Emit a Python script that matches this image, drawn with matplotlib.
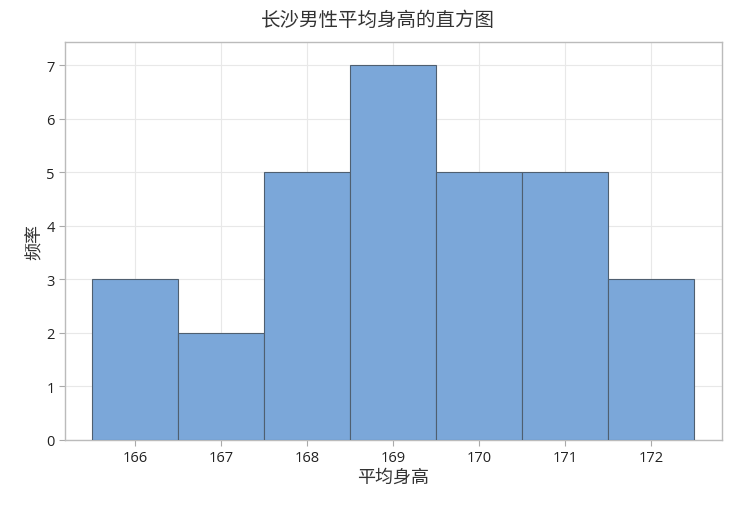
import matplotlib
matplotlib.use("Agg")
import matplotlib.pyplot as plt

plt.rcParams['font.family'] = ['Noto Sans CJK SC', 'DejaVu Sans']

heights = [166, 167, 168, 169, 170, 171, 172]
counts = [3, 2, 5, 7, 5, 5, 3]
yticks = [0, 1, 2, 3, 4, 5, 6, 7]

fig = plt.figure(figsize=(7.55, 5.10), dpi=100)
ax = fig.add_axes([65/755, 1 - 441/510, (722-65)/755, (441-43)/510])

ax.bar(heights, counts, width=1.0, color='#7BA7D9', edgecolor='#4F5F70', linewidth=0.8, zorder=3)

ax.set_xlim(165.186, 172.826)
ax.set_ylim(0, 7.43)
ax.set_xticks(heights)
ax.set_yticks(yticks)
ax.grid(True, color='#E8E8E8', linewidth=0.8, zorder=0)
for s in ax.spines.values():
    s.set_color('#BBBBBB')
    s.set_linewidth(1.0)
ax.tick_params(axis='both', colors='#AAAAAA', labelcolor='#222222', labelsize=10.5, length=4)
for lab in ax.get_xticklabels() + ax.get_yticklabels():
    lab.set_family(['Open Sans', 'DejaVu Sans'])

ax.set_xlabel('平均身高', fontsize=13, color='#333333', labelpad=2)
ax.set_ylabel('频率', fontsize=13, color='#333333', labelpad=2)
fig.text(0.5, 1 - 20/510, '长沙男性平均身高的直方图', ha='center', va='center', fontsize=14, color='#333333')

fig.savefig('out.png', dpi=100)
